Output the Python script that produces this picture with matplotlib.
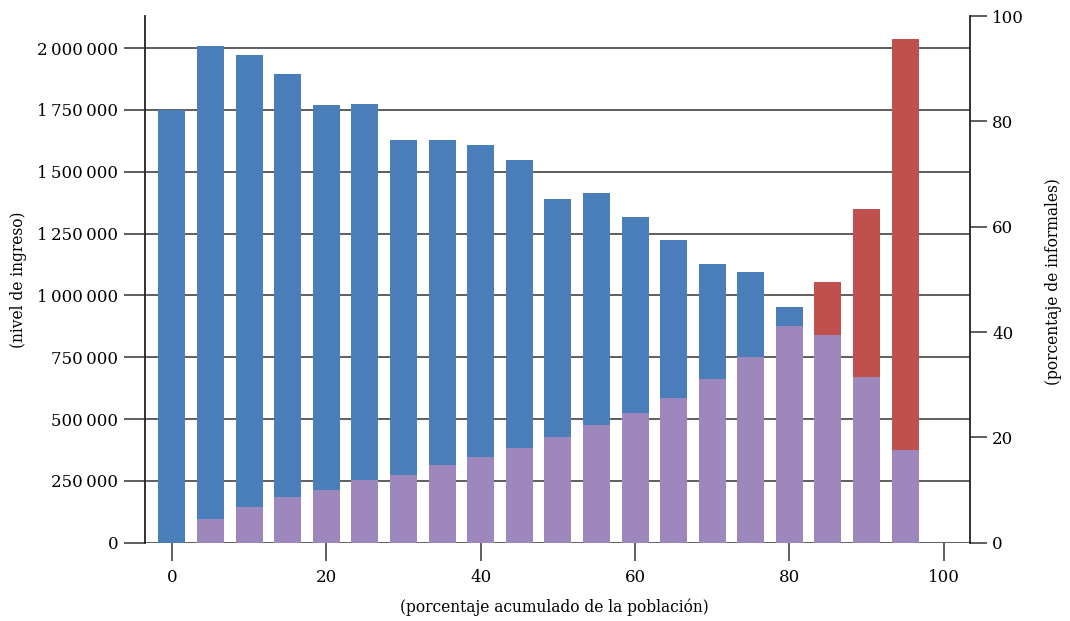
import numpy as np
import matplotlib

matplotlib.use("Agg")
import matplotlib.pyplot as plt
from matplotlib.ticker import FuncFormatter

# cumulative population percentile (bar position)
pop_pct = [0, 5, 10, 15, 20, 25, 30, 35, 40, 45, 50, 55, 60, 65, 70, 75, 80, 85, 90, 95]

# income level (left axis)
income = [1750000, 2010000, 1973000, 1896000, 1771000, 1775000, 1629000, 1629000,
          1609000, 1548000, 1390000, 1415000, 1318000, 1225000, 1127000, 1095000,
          953000, 1055000, 1350000, 2038000]

# share of informal workers (right axis)
informal = [0, 4.5, 6.8, 8.7, 10.0, 11.9, 12.9, 14.8, 16.3, 18.0, 20.1, 22.4,
            24.6, 27.5, 31.1, 35.3, 41.1, 39.4, 31.5, 17.6]

BLUE = "#4A7EBB"
RED = "#C0504D"
PURPLE = "#9D87BD"

plt.rcParams["font.family"] = ["DejaVu Serif", "DejaVu Sans"]


def thousands(v, pos):
    return f"{int(v):,}".replace(",", "\u2009")


fig = plt.figure(figsize=(10.70, 6.21), dpi=100)
ax = fig.add_axes([0.1351, 0.1261, 0.9065 - 0.1351, 0.9742 - 0.1261])

colors = [RED if p >= 85 else BLUE for p in pop_pct]
ax.bar(pop_pct, income, width=3.5, color=colors, zorder=2)

ax.set_xlim(-3.55, 103.4)
ax.set_ylim(0, 2130000)
ax.set_yticks(np.arange(0, 2000001, 250000))
ax.yaxis.set_major_formatter(FuncFormatter(thousands))
ax.set_xticks([0, 20, 40, 60, 80, 100])
ax.grid(axis="y", color="#333333", linewidth=1.1, zorder=0)
ax.set_axisbelow(True)

for s in ["top", "right"]:
    ax.spines[s].set_visible(False)
ax.spines["bottom"].set_visible(False)
ax.spines["left"].set_color("#222222")
ax.spines["left"].set_linewidth(1.3)

ax.tick_params(axis="y", length=15, width=1.1, color="#333333", labelsize=12, pad=4)
ax.tick_params(axis="x", length=13, width=1.1, color="#333333", labelsize=12, pad=6)

ax2 = ax.twinx()
ax2.bar(pop_pct, informal, width=3.5, color=PURPLE, zorder=3)
ax2.set_ylim(0, 100)
ax2.set_yticks([0, 20, 40, 60, 80, 100])
for s in ["top", "left", "bottom"]:
    ax2.spines[s].set_visible(False)
ax2.spines["right"].set_color("#222222")
ax2.spines["right"].set_linewidth(1.3)
ax2.tick_params(axis="y", length=12, width=1.1, color="#333333", labelsize=12, pad=4)

fig.text(0.5185, 0.0225, "(porcentaje acumulado de la población)", ha="center", va="center", fontsize=11.2)
fig.text(0.017, 0.55, "(nivel de ingreso)", rotation=90, ha="center", va="center", fontsize=11.2)
fig.text(0.985, 0.547, "(porcentaje de informales)", rotation=90, ha="center", va="center", fontsize=11.2)

fig.savefig("out.png", dpi=100)
plt.close(fig)
